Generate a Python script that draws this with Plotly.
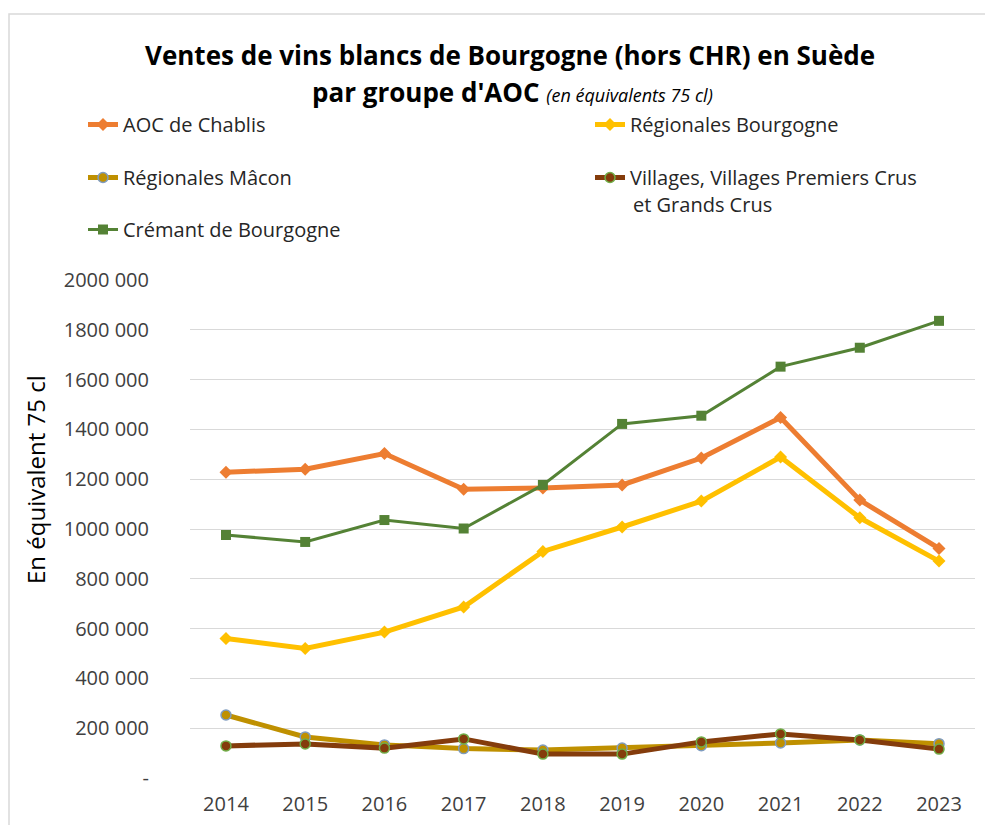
import plotly.graph_objects as go

years = ["2014", "2015", "2016", "2017", "2018", "2019", "2020", "2021", "2022", "2023"]
chablis = [1228000, 1240000, 1303000, 1160000, 1165000, 1177000, 1285000, 1448000, 1116000, 922000]
reg_bourgogne = [560000, 520000, 586000, 687000, 910000, 1008000, 1112000, 1289000, 1045000, 871000]
reg_macon = [253000, 165000, 133000, 118000, 112000, 120000, 130000, 141000, 153000, 138000]
villages = [129000, 137000, 120000, 157000, 96000, 96000, 145000, 177000, 153000, 116000]
cremant = [976000, 948000, 1036000, 1002000, 1177000, 1422000, 1455000, 1652000, 1728000, 1836000]
y_ticks = [0, 200000, 400000, 600000, 800000, 1000000, 1200000, 1400000, 1600000, 1800000, 2000000]
y_tick_text = ["-", "200 000", "400 000", "600 000", "800 000", "1000 000", "1200 000",
               "1400 000", "1600 000", "1800 000", "2000 000"]

OFF = 8  # page body margin
W, H = 993 - 2 * OFF, 833 - 2 * OFF
L, R, T, B = 190, 975, 280, 778  # plot area in page pixels
FONT = "Open Sans, sans-serif"


def px(x):
    return (x - L) / (R - L)


def py(y):
    return (B - y) / (B - T)


fig = go.Figure()
series = [
    ("AOC de Chablis", chablis, "#ED7D31", 5, dict(symbol="diamond", size=10, color="#ED7D31"), "legend"),
    ("Régionales Bourgogne", reg_bourgogne, "#FFC000", 5, dict(symbol="diamond", size=10, color="#FFC000"), "legend2"),
    ("Régionales Mâcon", reg_macon, "#BF9000", 5, dict(symbol="circle", size=10, color="#BF9000", line=dict(color="#7F9CBF", width=1.5)), "legend3"),
    ("Villages, Villages Premiers Crus", villages, "#843C0C", 5, dict(symbol="circle", size=10, color="#843C0C", line=dict(color="#70AD47", width=1.5)), "legend4"),
    ("Crémant de Bourgogne", cremant, "#548235", 3, dict(symbol="square", size=10, color="#548235"), "legend5"),
]
for name, vals, col, w, mk, lg in series:
    fig.add_trace(go.Scatter(x=years, y=vals, name=name, mode="lines+markers",
                             line=dict(color=col, width=w), marker=mk, legend=lg))

legend_pos = {"legend": (83, 105), "legend2": (590, 105), "legend3": (83, 158),
              "legend4": (590, 158), "legend5": (83, 210)}
layout_legends = {}
for k, (lx, ly) in legend_pos.items():
    layout_legends[k] = dict(x=px(lx), y=py(ly), xanchor="left", yanchor="top",
                             bgcolor="rgba(0,0,0,0)", font=dict(family=FONT, size=20, color="#262626"),
                             itemwidth=30)

fig.update_layout(
    width=W, height=H,
    margin=dict(l=L - OFF, r=W - (R - OFF), t=T - OFF, b=H - (B - OFF)),
    paper_bgcolor="white", plot_bgcolor="white",
    font=dict(family=FONT, size=20, color="#404040"),
    showlegend=True,
    xaxis=dict(type="category", range=[-0.454, 9.454], showgrid=False, showline=False, ticks="",
               ticklabelstandoff=12, automargin=False,
               tickfont=dict(family=FONT, size=20, color="#404040")),
    yaxis=dict(range=[0, 2000000], tickvals=y_ticks, ticktext=y_tick_text,
               showgrid=True, gridcolor="#D9D9D9", gridwidth=1, zeroline=False,
               showline=False, ticks="", ticklabelstandoff=40, automargin=False,
               tickfont=dict(family=FONT, size=20, color="#404040")),
    **layout_legends,
)

fig.add_annotation(x=px(631), y=py(204), xref="paper", yref="paper", showarrow=False,
                   xanchor="left", yanchor="middle", text="et Grands Crus",
                   font=dict(family=FONT, size=20, color="#262626"))
fig.add_annotation(x=px(510), y=py(55), xref="paper", yref="paper", showarrow=False,
                   xanchor="center", yanchor="middle",
                   text="<b>Ventes de vins blancs de Bourgogne (hors CHR) en Suède</b>",
                   font=dict(family=FONT, size=26, color="#000000"))
fig.add_annotation(x=px(512), y=py(92), xref="paper", yref="paper", showarrow=False,
                   xanchor="center", yanchor="middle",
                   text="<b>par groupe d'AOC</b> <i><span style='font-size:18px'>(en équivalents 75 cl)</span></i>",
                   font=dict(family=FONT, size=26, color="#000000"))
fig.add_annotation(x=px(35), y=py(480), xref="paper", yref="paper", showarrow=False,
                   xanchor="center", yanchor="middle",
                   text="En équivalent 75 cl", textangle=-90,
                   font=dict(family=FONT, size=24, color="#000000"))
fig.add_shape(type="rect", xref="paper", yref="paper", x0=px(9), x1=px(1010), y0=py(850), y1=py(14),
              line=dict(color="#D9D9D9", width=1.5), fillcolor="rgba(0,0,0,0)", layer="below")

fig.write_html("out.html")
